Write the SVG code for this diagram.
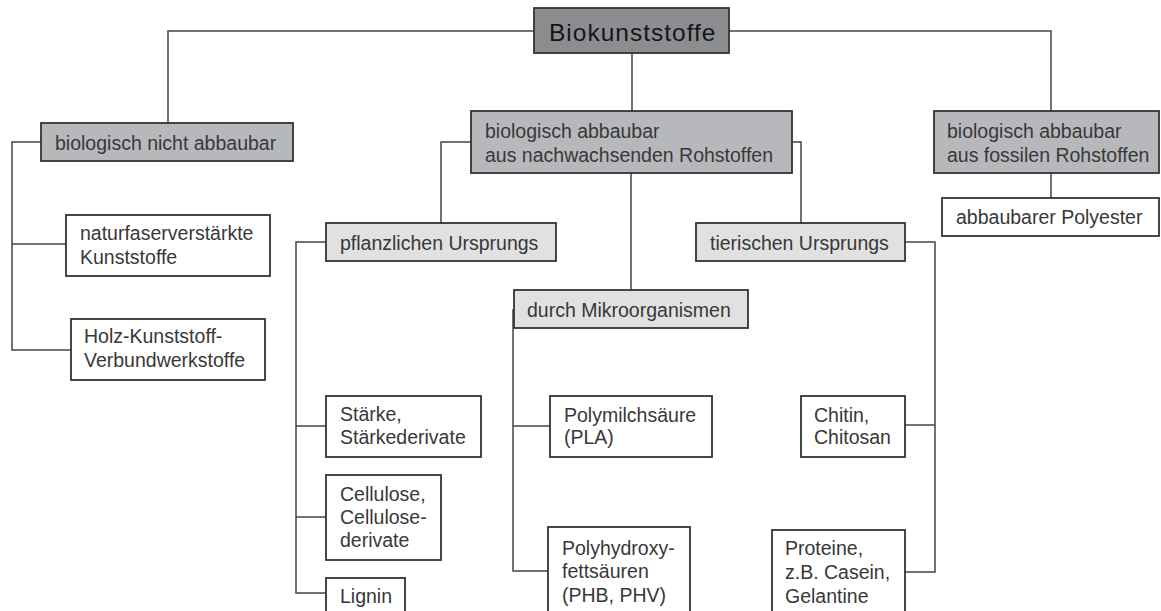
<svg xmlns="http://www.w3.org/2000/svg" width="1161" height="611" viewBox="0 0 1161 611">
<style>
.box{stroke:#333;stroke-width:1.8}
.l0{fill:#8c8d91}
.l1{fill:#b7b8bc}
.l2{fill:#e1e1e2}
.leaf{fill:#ffffff}
.t{font-family:"Liberation Sans",Arial,sans-serif;font-size:19.5px;fill:#383838}
.title{font-family:"Liberation Sans",Arial,sans-serif;font-size:24.5px;letter-spacing:1px;fill:#151515}
.conn{fill:none;stroke:#444;stroke-width:1.5}
</style>
<rect width="1161" height="611" fill="#fff"/>
<g id="connectors" class="conn">
<path d="M534,31 H168 V123"/>
<path d="M729,31 H1051 V111"/>
<path d="M632,53 V111"/>
<path d="M41,142 H12 V350 H71"/>
<path d="M12,244 H66"/>
<path d="M471,142 H441 V223"/>
<path d="M792,142 H801 V223"/>
<path d="M631,173 V290"/>
<path d="M1051,173 V198"/>
<path d="M326,242 H296 V593 H326"/>
<path d="M296,426 H326"/>
<path d="M296,517 H326"/>
<path d="M514,310 H513 V571 H548"/>
<path d="M513,426 H550"/>
<path d="M905,242 H935 V572 H905"/>
<path d="M935,425 H905"/>
</g>
<g id="biokunststoffe"><rect class="box l0" x="534" y="8" width="195" height="45"/><text class="title" x="549" y="41">Biokunststoffe</text></g>
<g id="nicht-abbaubar"><rect class="box l1" x="41" y="123" width="252" height="38"/><text class="t" x="55" y="150">biologisch nicht abbaubar</text></g>
<g id="nachwachsend"><rect class="box l1" x="471" y="111" width="321" height="62"/><text class="t" x="485" y="138">biologisch abbaubar</text><text class="t" x="485" y="162">aus nachwachsenden Rohstoffen</text></g>
<g id="fossil"><rect class="box l1" x="934" y="111" width="225" height="62"/><text class="t" x="947" y="138">biologisch abbaubar</text><text class="t" x="947" y="162">aus fossilen Rohstoffen</text></g>
<g id="polyester"><rect class="box leaf" x="942" y="198" width="217" height="38"/><text class="t" x="956" y="224">abbaubarer Polyester</text></g>
<g id="naturfaser"><rect class="box leaf" x="66" y="215" width="204" height="61"/><text class="t" x="80" y="240">naturfaserverstärkte</text><text class="t" x="80" y="264">Kunststoffe</text></g>
<g id="holz"><rect class="box leaf" x="71" y="319" width="194" height="61"/><text class="t" x="84" y="343">Holz-Kunststoff-</text><text class="t" x="84" y="367">Verbundwerkstoffe</text></g>
<g id="pflanzlich"><rect class="box l2" x="326" y="223" width="230" height="38"/><text class="t" x="340" y="250">pflanzlichen Ursprungs</text></g>
<g id="tierisch"><rect class="box l2" x="696" y="223" width="209" height="38"/><text class="t" x="710" y="250">tierischen Ursprungs</text></g>
<g id="mikroorganismen"><rect class="box l2" x="514" y="290" width="234" height="38"/><text class="t" x="527" y="317">durch Mikroorganismen</text></g>
<g id="staerke"><rect class="box leaf" x="326" y="396" width="155" height="61"/><text class="t" x="340" y="421">Stärke,</text><text class="t" x="340" y="444">Stärkederivate</text></g>
<g id="cellulose"><rect class="box leaf" x="326" y="475" width="115" height="85"/><text class="t" x="340" y="501">Cellulose,</text><text class="t" x="340" y="524">Cellulose-</text><text class="t" x="340" y="547">derivate</text></g>
<g id="lignin"><rect class="box leaf" x="326" y="578" width="79" height="45"/><text class="t" x="340" y="603">Lignin</text></g>
<g id="pla"><rect class="box leaf" x="550" y="396" width="162" height="61"/><text class="t" x="564" y="422">Polymilchsäure</text><text class="t" x="564" y="444">(PLA)</text></g>
<g id="phb"><rect class="box leaf" x="548" y="527" width="142" height="96"/><text class="t" x="562" y="555">Polyhydroxy-</text><text class="t" x="562" y="578">fettsäuren</text><text class="t" x="562" y="602">(PHB, PHV)</text></g>
<g id="chitin"><rect class="box leaf" x="801" y="396" width="104" height="61"/><text class="t" x="814" y="422">Chitin,</text><text class="t" x="814" y="444">Chitosan</text></g>
<g id="proteine"><rect class="box leaf" x="772" y="530" width="133" height="93"/><text class="t" x="785" y="555">Proteine,</text><text class="t" x="785" y="579">z.B. Casein,</text><text class="t" x="785" y="603">Gelantine</text></g>
</svg>
